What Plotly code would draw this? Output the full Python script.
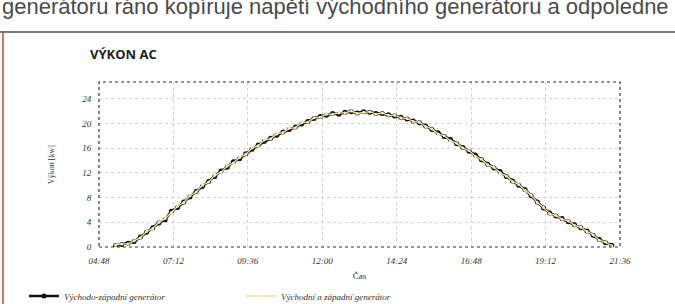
import plotly.graph_objects as go

times = ["05:20","05:32","05:44","05:56","06:08","06:20","06:32","06:44","06:56","07:08",
         "07:20","07:32","07:44","07:56","08:08","08:20","08:32","08:44","08:56","09:08",
         "09:20","09:32","09:44","09:56","10:08","10:20","10:32","10:44","10:56","11:08",
         "11:20","11:32","11:44","11:56","12:08","12:20","12:32","12:44","12:56","13:08",
         "13:20","13:32","13:44","13:56","14:08","14:20","14:32","14:44","14:56","15:08",
         "15:20","15:32","15:44","15:56","16:08","16:20","16:32","16:44","16:56","17:08",
         "17:20","17:32","17:44","17:56","18:08","18:20","18:32","18:44","18:56","19:08",
         "19:20","19:32","19:44","19:56","20:08","20:20","20:32","20:44","20:56","21:08",
         "21:20"]

vychodo_zapadni = [0.2,0.4,0.6,0.9,1.6,2.4,3.1,3.9,4.4,5.8,
                   6.4,7.3,8.1,9.0,9.8,10.6,11.4,12.3,12.9,13.8,
                   14.3,15.1,15.8,16.5,17.1,17.6,18.1,18.6,19.0,19.4,
                   19.9,20.3,20.8,21.1,21.3,21.6,21.5,21.8,21.9,21.7,
                   21.9,21.8,21.6,21.6,21.4,21.2,21.0,20.7,20.4,20.1,
                   19.6,19.0,18.5,17.9,17.4,16.7,16.1,15.5,14.9,14.1,
                   13.4,12.8,12.2,11.4,10.7,10.0,9.3,8.3,7.3,6.3,
                   5.5,5.0,4.6,4.1,3.6,3.1,2.6,1.9,1.2,0.7,
                   0.3]

vychodni_a_zapadni = [0.3,0.5,0.5,1.0,1.5,2.5,3.0,4.0,4.6,5.6,
                      6.6,7.2,8.3,8.9,10.0,10.5,11.6,12.1,13.1,13.6,
                      14.5,15.0,16.0,16.4,17.3,17.5,18.3,18.5,19.2,19.3,
                      20.1,20.2,20.9,21.0,21.5,21.5,21.7,21.7,22.0,21.6,
                      21.8,21.9,21.5,21.7,21.3,21.3,20.9,20.8,20.3,20.2,
                      19.5,19.1,18.3,18.0,17.2,16.8,16.0,15.6,14.7,14.2,
                      13.3,12.9,12.0,11.5,10.6,10.1,9.2,8.4,7.2,6.4,
                      5.4,5.1,4.5,4.2,3.5,3.2,2.5,2.0,1.1,0.8,
                      0.2]

tick_labels = ["04:48","07:12","09:36","12:00","14:24","16:48","19:12","21:36"]

def to_min(s):
    h, m = s.split(":")
    return int(h) * 60 + int(m)

x = [to_min(t) for t in times]
tickvals = [to_min(t) for t in tick_labels]

W, H = 675, 304
ml, mr, mt, mb = 99, 55, 82, 57
ph = H - mt - mb
pw = W - ml - mr

def py(pix):  # pixel from top -> paper y
    return (H - mb - pix) / ph

def px(pix):
    return (pix - ml) / pw

serif = "Liberation Serif"

fig = go.Figure()
fig.add_trace(go.Scatter(
    x=x, y=vychodo_zapadni, mode="lines+markers",
    name="Východo-západní generátor",
    line=dict(color="#111111", width=2.6),
    marker=dict(color="#111111", size=5, symbol="circle"),
))
fig.add_trace(go.Scatter(
    x=x, y=vychodni_a_zapadni, mode="lines+markers",
    name="Východní a západní generátor",
    line=dict(color="#efe0a0", width=1.4),
    marker=dict(color="#f6ecbd", size=3, symbol="circle"),
))

fig.update_layout(
    width=W, height=H,
    margin=dict(l=ml, r=mr, t=mt, b=mb, autoexpand=False),
    paper_bgcolor="white", plot_bgcolor="white",
    showlegend=True,
    legend=dict(
        orientation="h", xref="container", yref="container",
        x=24 / W, y=1 - 296 / H, xanchor="left", yanchor="middle",
        font=dict(family=serif, size=9, color="#333", style="italic"),
        entrywidth=172, entrywidthmode="pixels", itemwidth=30,
        bgcolor="rgba(0,0,0,0)",
    ),
    title=dict(
        text="<b>VÝKON AC</b>", x=90 / W, xanchor="left", xref="container",
        y=1 - 54 / H, yanchor="middle", yref="container",
        font=dict(family="Open Sans", size=13, color="#222"),
    ),
    xaxis=dict(
        range=[288, 1296], tickvals=tickvals, ticktext=tick_labels,
        showgrid=True, gridcolor="#d2d2d2", griddash="dot", gridwidth=1,
        zeroline=False, showline=False,
        ticks="outside", ticklen=5, tickcolor="rgba(0,0,0,0)",
        tickfont=dict(family=serif, size=9, color="#333", style="italic"),
        title=dict(text="Čas", font=dict(family=serif, size=9, color="#333"), standoff=13),
    ),
    yaxis=dict(
        range=[0, 26.7], tickvals=[0, 4, 8, 12, 16, 20, 24],
        showgrid=True, gridcolor="#d2d2d2", griddash="dot", gridwidth=1,
        zeroline=False, showline=False,
        ticks="outside", ticklen=5, tickcolor="rgba(0,0,0,0)",
        tickfont=dict(family=serif, size=9, color="#333", style="italic"),
        title=dict(text="Výkon [kw]", font=dict(family=serif, size=8, color="#333"), standoff=26),
    ),
    shapes=[
        dict(type="rect", xref="paper", yref="paper", x0=0, x1=1, y0=0, y1=1,
             line=dict(color="#333", width=1.2, dash="dot")),
        dict(type="line", xref="paper", yref="paper", x0=px(0), x1=px(675), y0=py(32), y1=py(32),
             line=dict(color="#7a7a7a", width=2)),
        dict(type="line", xref="paper", yref="paper", x0=px(3), x1=px(3), y0=py(31), y1=py(304),
             line=dict(color="#b34a4a", width=1.5)),
    ],
    annotations=[
        dict(text="generátoru ráno kopíruje napětí východního generátoru a odpoledne",
             xref="paper", yref="paper", x=px(0), y=py(21), xanchor="left", yanchor="bottom",
             showarrow=False, font=dict(family="Liberation Sans", size=22, color="#4a4a4a")),
    ],
)

fig.write_html("out.html", config={"displayModeBar": False},
               post_script="document.body.style.margin='0';document.body.style.overflow='hidden';")
